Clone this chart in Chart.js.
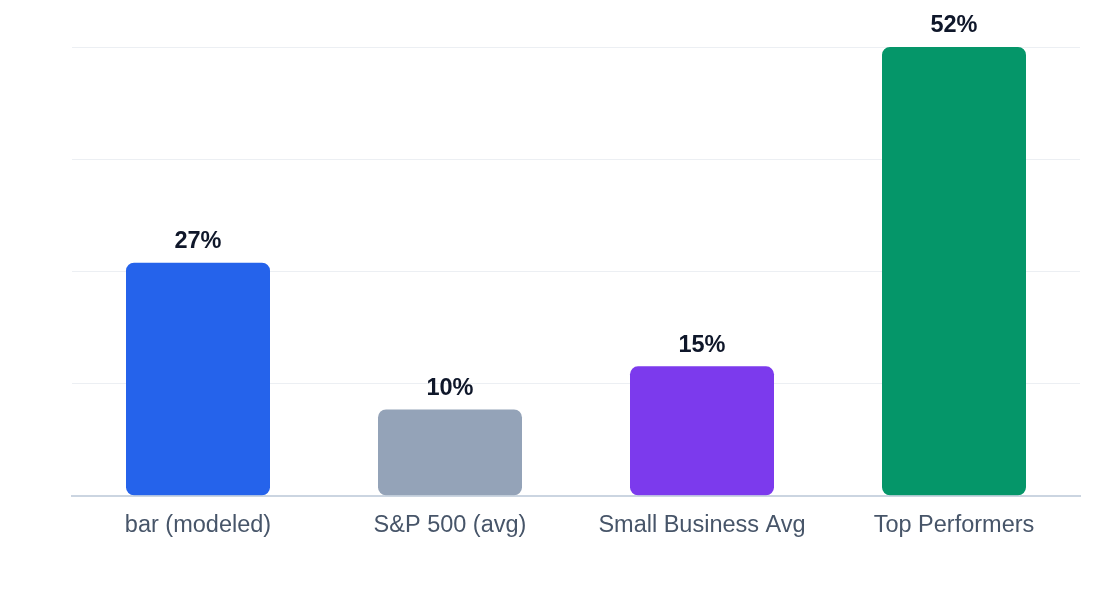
<!DOCTYPE html>
<html>
<head>
<meta charset="utf-8">
<script src="https://cdn.jsdelivr.net/npm/chart.js@4.4.0/dist/chart.umd.min.js"></script>
<style>
html,body{margin:0;padding:0;background:#fff;}
#wrap{width:1120px;height:600px;position:relative;}
</style>
</head>
<body>
<div id="wrap"><canvas id="c"></canvas></div>
<script>
const categories = ["bar (modeled)", "S&P 500 (avg)", "Small Business Avg", "Top Performers"];
const values = [27, 10, 15, 52];
const valueLabels = ["27%", "10%", "15%", "52%"];
const barColors = ["#2563eb", "#94a3b8", "#7c3aed", "#059669"];

const labelPlugin = {
  id: 'valueLabels',
  afterDatasetsDraw(chart) {
    const ctx = chart.ctx;
    const meta = chart.getDatasetMeta(0);
    ctx.save();
    ctx.font = 'bold 23.5px "Liberation Sans", Arial, sans-serif';
    ctx.fillStyle = '#0f172a';
    ctx.textAlign = 'center';
    ctx.textBaseline = 'middle';
    meta.data.forEach((el, i) => {
      ctx.fillText(valueLabels[i], el.x, el.y - 21);
    });
    ctx.restore();
  }
};

new Chart(document.getElementById('c'), {
  type: 'bar',
  data: {
    labels: categories,
    datasets: [{
      data: values,
      backgroundColor: barColors,
      borderRadius: 8,
      borderSkipped: false,
      barPercentage: 0.5714,
      categoryPercentage: 1.0
    }]
  },
  options: {
    responsive: true,
    maintainAspectRatio: false,
    animation: false,
    layout: { padding: { left: 72, right: 40, top: 47, bottom: 52 } },
    plugins: { legend: { display: false }, tooltip: { enabled: false } },
    scales: {
      x: {
        grid: { display: false },
        border: { display: true, color: '#cbd5e1', width: 2 },
        ticks: {
          color: '#475569',
          padding: 8,
          font: { size: 23.5, family: '"Liberation Sans", Arial, sans-serif' }
        }
      },
      y: {
        min: 0,
        max: 52,
        ticks: { display: false, stepSize: 13 },
        grid: { color: '#eceff3', lineWidth: 1, drawTicks: false },
        border: { display: false }
      }
    }
  },
  plugins: [labelPlugin]
});
</script>
</body>
</html>
